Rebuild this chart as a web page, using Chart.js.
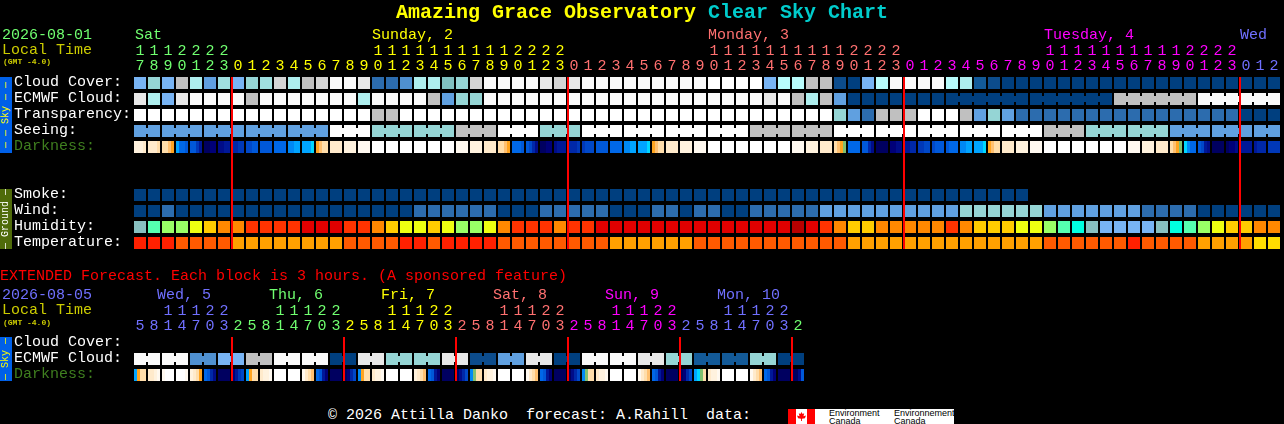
<!DOCTYPE html>
<html><head><meta charset="utf-8">
<style>
html,body{margin:0;padding:0;background:#000;width:1284px;height:424px;overflow:hidden}
canvas{position:absolute;left:0;display:block}
.t{position:absolute;white-space:pre;font-family:"Liberation Mono",monospace;font-size:15px;line-height:15px}
.side{position:absolute;left:0;width:12px}
.side span{position:absolute;left:6px;top:50%;transform:translate(-50%,-50%) rotate(-90deg);white-space:pre;font:10px/10px "Liberation Mono",monospace}
#logo{position:absolute;left:788px;top:409px;width:166px;height:15px;background:#fff;overflow:hidden}
#logo i{position:absolute;top:0;height:15px;background:#f00}
#logo b{position:absolute;color:#000;font:400 9px/8px "Liberation Sans",sans-serif;white-space:pre;top:0}
</style></head><body>
<canvas id="main" width="1284" height="251" style="top:0"></canvas>
<canvas id="ext" width="1284" height="123" style="top:260px"></canvas>
<div id="text"></div>
<div class="side" style="top:77px;height:76px;background:#0060E8;color:#FFFF00"><span>— — Sky — —</span></div>
<div class="side" style="top:189px;height:60px;background:#4F6B0A;color:#fff"><span>— Ground —</span></div>
<div class="side" style="top:337px;height:44px;background:#0060E8;color:#FFFF00"><span>— Sky —</span></div>
<div id="logo"><i style="left:0;width:8px"></i><i style="left:19px;width:8px"></i>
<i style="left:9px;top:3px;width:9px;height:9px;clip-path:polygon(50% 0,62% 22%,80% 15%,72% 48%,100% 40%,88% 70%,55% 75%,55% 100%,45% 100%,45% 75%,12% 70%,0 40%,28% 48%,20% 15%,38% 22%)"></i>
<b style="left:41px">Environment
Canada</b><b style="left:106px">Environnement
Canada</b></div>
<script src="https://cdn.jsdelivr.net/npm/chart.js@4/dist/chart.umd.min.js"></script>
<script>
const GREEN='#70FF70',YELLOW='#FFFF00',PINK='#FF7070',MAGENTA='#FF00FF',BLUE='#7070FF';

const hours=[17,18,19,20,21,22,23,
0,1,2,3,4,5,6,7,8,9,10,11,12,13,14,15,16,17,18,19,20,21,22,23,
0,1,2,3,4,5,6,7,8,9,10,11,12,13,14,15,16,17,18,19,20,21,22,23,
0,1,2,3,4,5,6,7,8,9,10,11,12,13,14,15,16,17,18,19,20,21,22,23,
0,1,2];
const extHours=[5,8,11,14,17,20,23,
2,5,8,11,14,17,20,23,
2,5,8,11,14,17,20,23,
2,5,8,11,14,17,20,23,
2,5,8,11,14,17,20,23,
2,5,8,11,14,17,20,23,
2];
const rowNames=['Cloud Cover:','ECMWF Cloud:','Transparency:','Seeing:','Darkness:','','','Smoke:','Wind:','Humidity:','Temperature:'];
const extRowNames=['Cloud Cover:','ECMWF Cloud:','Darkness:'];

const cloudCover=[50,70,50,80,60,40,65,50,70,65,85,60,80,85,95,95,90,20,20,30,60,
60,75,70,85,95,95,95,95,90,85,90,95,95,95,95,95,95,95,95,95,100,100,100,100,50,55,55,80,80,5,
0,50,55,95,95,95,95,55,60,10,5,0,0,0,0,0,0,0,0,0,0,0,0,0,0,0,0,0,0,0,0];
const ecmwfCloud=[90,60,50,90,95,95,95,95,80,95,95,95,95,95,95,95,60,95,95,95,95,
80,40,70,70,95,95,95,95,95,95,95,95,95,95,95,95,95,95,95,95,95,95,95,95,90,95,80,60,80,40,
0,0,0,0,0,0,0,0,0,0,0,0,0,0,0,0,0,0,0,80,80,80,80,80,80,95,95,95,95,95,95];
const transparency=[100,100,100,100,100,100,100,100,100,100,100,100,100,100,100,100,100,80,80,100,100,
100,100,100,100,100,100,100,100,100,100,100,100,100,100,100,100,100,100,100,100,100,100,100,100,100,100,100,100,100,70,
40,20,80,80,80,100,100,100,80,40,70,40,20,20,20,20,20,20,20,20,20,20,20,20,20,20,20,20,0,0,0];
const seeing=[40,40,40,40,40,40,40,40,40,40,40,40,40,40,100,100,100,70,70,70,70,
70,70,80,80,80,100,100,100,70,70,70,100,100,100,100,100,100,100,100,100,100,100,100,80,80,80,80,80,80,100,
100,100,100,100,100,100,100,100,100,100,100,100,100,100,80,80,80,70,70,70,70,70,70,40,40,40,40,40,40,40,40];
const smoke=[0,0,0,0,0,0,0,0,0,0,0,0,0,0,0,0,0,0,0,0,0,0,0,0,0,0,0,0,0,0,0,0,
0,0,0,0,0,0,0,0,0,0,0,0,0,0,0,0,0,0,0,0,0,0,0,0,0,0,0,0,0,0,0,0];
const wind=[0,0,20,0,0,0,0,0,0,0,0,0,0,0,0,0,0,0,0,0,20,
20,20,20,20,20,0,0,0,20,20,20,20,20,0,0,0,20,20,0,20,20,0,0,20,20,20,20,20,40,40,
40,40,40,40,40,40,40,40,70,70,70,70,70,70,40,40,40,40,40,40,40,20,20,20,20,0,0,0,0,0,0];
const humidity=[9,8,7,7,6,5,4,4,3,3,3,3,2,2,2,3,3,4,5,6,6,
5,6,7,7,6,4,3,3,3,4,3,3,2,2,2,2,2,2,2,2,2,2,2,2,2,2,1,2,3,4,
5,5,4,4,4,4,4,3,4,5,5,5,6,6,7,8,10,9,11,11,11,11,9,10,8,7,6,5,5,4,4];
const temperature=[1,1,1,2,2,2,2,3,3,3,3,3,3,3,3,2,2,2,2,1,1,
2,1,1,1,1,2,2,2,2,2,2,2,2,3,3,3,3,3,3,2,2,2,2,2,2,2,2,2,2,2,
3,3,3,3,3,3,3,3,3,3,3,3,3,3,2,2,2,2,2,2,1,2,2,2,2,3,3,3,3,4,4];
// four samples across each hour block
const darkness=[
2,2,2,3, 3,3,3,4, 4,4,5,6, 8,10,10,11, 11,11,13,15, 18,18,17,17, 16,16,15,15,
14,14,13,13, 12,12,11,11, 11,11,11,11, 10,10,10,10, 9,9,8,8, 8,8,8,7, 6,5,4,4, 3,3,3,3, 2,2,2,2, 1,1,1,1,
0,0,0,0, 0,0,0,0, 0,0,0,0, 0,0,0,0, 0,0,0,0, 0,0,0,0,
1,1,1,1, 2,2,2,2, 3,3,3,3, 4,4,5,6, 10,10,10,11, 11,12,14,16, 18,18,17,17, 16,15,15,15,
14,14,14,13, 13,12,12,12, 11,11,11,11, 10,10,10,10, 9,9,8,8, 8,8,8,7, 6,5,4,4, 3,3,3,3, 2,2,2,2, 1,1,1,1,
0,0,0,0, 0,0,0,0, 0,0,0,0, 0,0,0,0, 0,0,0,0, 0,0,0,0,
1,1,1,1, 2,2,2,2, 3,3,3,3, 4,5,6,19, 10,10,10,10, 11,11,14,16, 18,18,18,18, 17,17,16,16,
15,15,14,14, 13,13,12,12, 12,11,11,11, 11,10,10,10, 9,9,8,8, 8,8,8,7, 6,5,4,4, 3,3,3,3, 2,2,2,2, 1,1,1,1,
0,0,0,0, 0,0,0,0, 0,0,0,0, 0,0,0,0, 0,0,0,0, 0,0,0,0,
1,1,1,1, 2,2,2,2, 3,3,3,3, 4,5,6,19, 7,9,10,10, 11,12,15,16, 18,18,18,18, 18,17,17,16,
15,15,15,15, 15,14,14,14, 13,13,13,13];
const extEcmwf=[95,95,95,95,30,30,50,50,80,80,95,95,95,95,0,0,90,90,70,70,70,70,90,90,
5,5,40,40,90,90,0,0,95,95,95,95,90,90,70,70,10,10,10,10,70,70,0,0];
const extDarkness=[
8,6,4,4, 3,3,2,1, 1,0,0,0, 0,0,0,1, 2,3,4,6, 10,11,14,16, 18,18,18,18, 17,15,13,12,
8,6,4,4, 3,2,2,1, 0,0,0,0, 0,0,0,0, 1,3,4,5, 10,11,15,17, 18,18,18,18, 18,17,14,12,
9,6,4,4, 3,2,2,1, 0,0,0,0, 0,0,0,0, 2,3,4,5, 10,11,15,17, 18,18,18,18, 18,16,14,12,
9,19,4,4, 3,2,2,1, 0,0,0,0, 0,0,0,0, 1,3,4,5, 10,11,15,17, 18,18,18,18, 18,16,14,12,
9,19,4,4, 3,2,2,1, 0,0,0,0, 0,0,0,0, 1,3,4,5, 10,11,15,17, 18,18,18,18, 18,17,14,12,
8,7,19,4, 3,2,2,1, 0,0,0,0, 0,0,0,0, 1,3,4,5, 10,11,15,17, 18,18,18,18, 18,18,16,11];

const midnights=[7,31,55,79];
const extMidnights=[7,15,23,31,39,47];
const seeingBlocks=[[0,2],[2,3],[5,3],[8,3],[11,3],[14,3],[17,3],[20,3],[23,3],[26,3],[29,3],[32,3],[35,3],[38,3],[41,3],[44,3],[47,3],[50,3],[53,3],[56,3],[59,3],[62,3],[65,3],[68,3],[71,3],[74,3],[77,3],[80,2]];
const ecmwfBlocks=[[58,6],[64,6],[70,6],[76,6]];
const extEcmwfBlocks=[0,2,4,6,8,10,12,14,16,18,20,22,24,26,28,30,32,34,36,38,40,42,44,46].map(s=>[s,2]);

const skyColors={0:'#003F7F',5:'#0C4C8C',10:'#135A98',20:'#2C6CAE',30:'#4F90D0',40:'#60A0E0',50:'#78B4F4',55:'#B8FCFC',60:'#AEEEEE',65:'#A0E0E0',70:'#95D5D5',75:'#80C0C0',80:'#C0C0C0',85:'#D4D4D4',90:'#E8E8E8',95:'#FAFAFA',100:'#FFFFFF'};
const darkColors=['#FFFFFF','#FFF9F0','#FFF2DE','#FFEACB','#FFDDAA','#FFC070','#FFA420','#00D8FF','#00A4FF','#0088F4','#0068E8','#0058D8','#0048C8','#0038B8','#0028A8','#001898','#000C88','#000078','#000060','#80C070'];
const humColors={1:'#B80000',2:'#E00000',3:'#FF3300',4:'#FF8800',5:'#FFCC00',6:'#EEFF11',7:'#99FF66',8:'#55FFB0',9:'#88C0C0',10:'#00FFE0',11:'#78B4F4'};
const tempColors={1:'#FF2000',2:'#FF5A00',3:'#FFA000',4:'#FFDD00'};

const HALF=6/16, LINK=3/16, SAMPLE=3/14, REDSHIFT=-0.5+1/14, LABEL_LIFT=1/16;
const base={type:'bar',grouped:false,borderWidth:0,inflateAmount:0,borderSkipped:false};

function cells(values,row,colors){
  return {...base,barThickness:12,
    data:values.map((v,i)=>({x:i,y:[row-HALF,row+HALF]})),
    backgroundColor:values.map(v=>colors[v])};
}
function strips(values,row){
  const data=values.map((v,i)=>{const c=Math.floor(i/4);return {x:c+(i%4-1.5)*SAMPLE,y:[row-HALF,row+HALF]};});
  return {...base,barThickness:3,data,backgroundColor:values.map(v=>darkColors[v])};
}
function links(blocks,values,row){
  const data=[],col=[];
  blocks.forEach(([s,n])=>{for(let i=s;i<s+n-1;i++){data.push({x:i+0.5,y:[row-LINK,row+LINK]});col.push(skyColors[values[i]]);}});
  return {...base,barThickness:2,data,backgroundColor:col};
}
function redLines(list,y0,y1){
  return {...base,barThickness:2,order:-1,backgroundColor:'#FF0000',
    data:list.map(m=>({x:m+REDSHIFT,y:[y0,y1]}))};
}
function spanColors(spans){const out=[];spans.forEach(([c,n])=>{for(let i=0;i<n;i++)out.push(c);});return out;}
const hourColors=spanColors([[GREEN,7],[YELLOW,24],[PINK,24],[MAGENTA,24],[BLUE,3]]);
const extHourColors=spanColors([[BLUE,7],[GREEN,8],[YELLOW,8],[PINK,8],[MAGENTA,8],[BLUE,8],[GREEN,1]]);

const FONT={family:'"Liberation Mono",monospace',size:15,lineHeight:1};
function noPadding(s){s.paddingLeft=s.paddingRight=s.paddingTop=s.paddingBottom=0;}
function options(hrs,cols,names,rightPad){
  return {
    responsive:false,animation:false,
    layout:{autoPadding:false,padding:{left:14,right:rightPad,top:0,bottom:0}},
    plugins:{legend:{display:false},tooltip:{enabled:false}},
    events:[],
    scales:{
      x:{type:'linear',position:'top',offset:false,min:-0.5,max:hrs.length-0.5,
        grid:{display:false,offset:false,drawTicks:false},border:{display:false},
        afterBuildTicks:s=>{s.ticks=hrs.map((_,i)=>({value:i}));},
        afterFit:s=>{s.height=75;noPadding(s);},
        ticks:{autoSkip:false,maxRotation:0,minRotation:0,padding:1.5,font:FONT,
          color:c=>cols[c.index],
          callback:(v)=>{const h=hrs[v];return h>=10?[String(Math.floor(h/10)),String(h%10)]:['',String(h)];}}
      },
      y:{type:'linear',reverse:true,min:-0.5,max:names.length-0.5,
        grid:{display:false,drawTicks:false},border:{display:false},
        afterBuildTicks:s=>{s.ticks=names.map((_,i)=>({value:i-LABEL_LIFT}));},
        afterFit:s=>{s.width=119;noPadding(s);},
        ticks:{autoSkip:false,crossAlign:'far',padding:0,font:FONT,
          color:c=>names[c.index]==='Darkness:'?'#3F7F1F':'#FFFFFF',
          callback:(v,i)=>names[i]}
      }
    }
  };
}

new Chart(document.getElementById('main'),{type:'bar',data:{datasets:[
  redLines(midnights,-HALF,10+HALF),
  cells(cloudCover,0,skyColors),
  cells(ecmwfCloud,1,skyColors),links(ecmwfBlocks,ecmwfCloud,1),
  cells(transparency,2,skyColors),
  cells(seeing,3,skyColors),links(seeingBlocks,seeing,3),
  strips(darkness,4),
  cells(smoke,7,skyColors),
  cells(wind,8,skyColors),
  cells(humidity,9,humColors),
  cells(temperature,10,tempColors)
]},options:options(hours,hourColors,rowNames,3)});

new Chart(document.getElementById('ext'),{type:'bar',data:{datasets:[
  redLines(extMidnights,-HALF,2+HALF),
  cells(extEcmwf,1,skyColors),links(extEcmwfBlocks,extEcmwf,1),
  strips(extDarkness,2)
]},options:options(extHours,extHourColors,extRowNames,479)});

const texts=[
 ['Amazing Grace Observatory',396,12,YELLOW,'bold 20px'],
 ['Clear Sky Chart',708,12,'#00CCCC','bold 20px'],
 ['2026-08-01',2,35,GREEN],['Local Time',2,50,'#CCCC00'],['(GMT -4.0)',3,61,'#CCCC00','bold 8px'],
 ['Sat',135,35,GREEN],['Sunday, 2',372,35,YELLOW],['Monday, 3',708,35,PINK],['Tuesday, 4',1044,35,MAGENTA],['Wed',1240,35,BLUE],
 ['EXTENDED Forecast. Each block is 3 hours. (A sponsored feature)',0,276,'#FF0000'],
 ['2026-08-05',2,295,BLUE],['Local Time',2,310,'#CCCC00'],['(GMT -4.0)',3,322,'#CCCC00','bold 8px'],
 ['Wed, 5',157,295,BLUE],['Thu, 6',269,295,GREEN],['Fri, 7',381,295,YELLOW],['Sat, 8',493,295,PINK],['Sun, 9',605,295,MAGENTA],['Mon, 10',717,295,BLUE],
 ['\u00A9 2026 Attilla Danko  forecast: A.Rahill  data:',328,415,'#FFFFFF']
];
const box=document.getElementById('text');
texts.forEach(([s,x,y,c,f])=>{
  const d=document.createElement('div');d.className='t';d.textContent=s;
  d.style.left=x+'px';d.style.top=(y-7)+'px';d.style.color=c;
  if(f){d.style.font=f+'/15px "Liberation Mono",monospace';}
  box.appendChild(d);
});
</script>
</body></html>
